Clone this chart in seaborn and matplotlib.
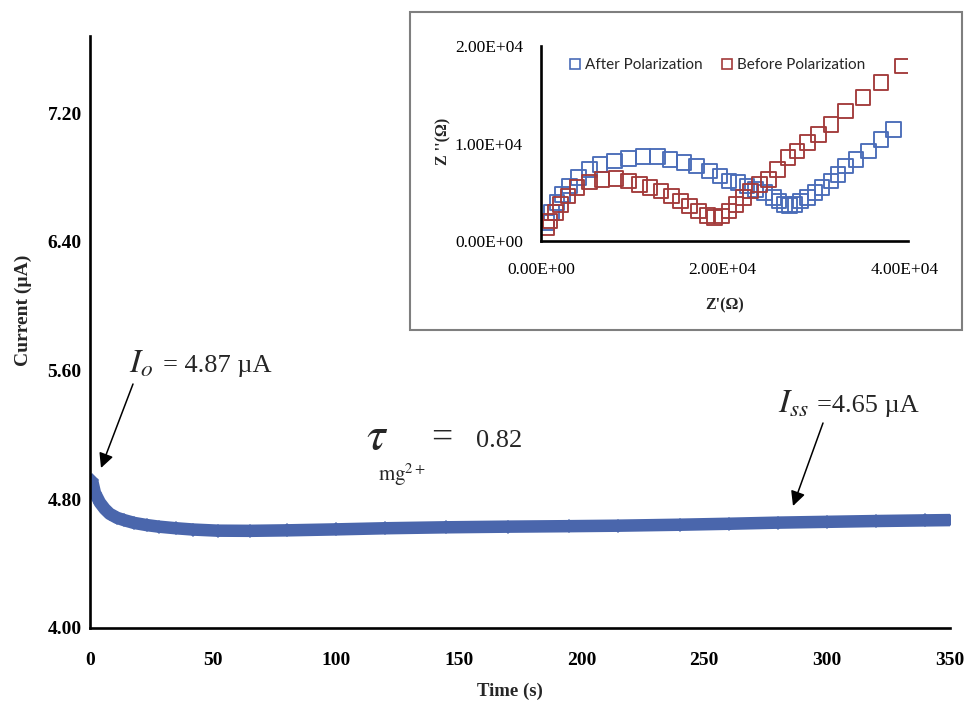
import numpy as np
import pandas as pd
import seaborn as sns
import matplotlib
matplotlib.use("Agg")
import matplotlib.pyplot as plt
from matplotlib.lines import Line2D
from matplotlib.patches import Rectangle
from matplotlib.ticker import FuncFormatter, FixedLocator

# ---------------- data ----------------
time_s = [0.8, 2, 4, 6, 8, 11, 14, 18, 23, 28, 35, 42, 52, 65, 80, 100,
          120, 145, 170, 195, 215, 240, 260, 280, 300, 320, 340, 351]
current_uA = [4.92, 4.84, 4.78, 4.74, 4.71, 4.685, 4.67, 4.653, 4.64, 4.63,
              4.62, 4.612, 4.605, 4.604, 4.607, 4.613, 4.62, 4.626, 4.63,
              4.633, 4.636, 4.642, 4.648, 4.655, 4.66, 4.665, 4.669, 4.671]

after_zre = [591, 1182, 1773, 2364, 3152, 4137, 5319, 6501, 8077, 9653, 11229,
             12805, 14184, 15760, 17139, 18518, 19700, 20685, 21670, 22655,
             23640, 24625, 25610, 26201, 26792, 27383, 27974, 28565, 29353,
             30141, 30929, 31914, 32702, 33490, 34672, 36051, 37430, 38809]
after_zim = [1880, 2906, 3932, 4787, 5641, 6496, 7351, 7864, 8206, 8445, 8650,
             8650, 8377, 8035, 7693, 7180, 6667, 6154, 5983, 5641, 5299, 4958,
             4445, 4103, 3761, 3658, 3761, 4103, 4445, 4958, 5470, 6154, 6838,
             7693, 8377, 9231, 10428, 11454]

before_zre = [591, 985, 1576, 2167, 2955, 3940, 5319, 6698, 8274, 9653, 10835,
              12017, 13199, 14381, 15366, 16351, 17336, 18321, 19109, 19897,
              20685, 21473, 22261, 23049, 24034, 25019, 26004, 27186, 28171,
              29353, 30535, 31914, 33490, 35460, 37430, 39794]
before_zim = [1368, 2051, 2906, 3761, 4616, 5470, 6052, 6325, 6394, 6154, 5812,
              5470, 5129, 4616, 4103, 3590, 3077, 2633, 2393, 2564, 3077, 3761,
              4445, 5129, 5812, 6325, 7351, 8548, 9231, 10086, 10941, 11967,
              13334, 14702, 16240, 17950]

main_yticks = [4.00, 4.80, 5.60, 6.40, 7.20]
main_xticks = [0, 50, 100, 150, 200, 250, 300, 350]
inset_xticks = [0, 20000, 40000]
inset_yticks = [0, 10000, 20000]
series_names = ["After Polarization", "Before Polarization"]

# ---------------- style ----------------
sns.set_theme(style="white")
plt.rcParams["font.family"] = ["Liberation Serif", "DejaVu Serif"]
plt.rcParams["mathtext.fontset"] = "stix"

W, H = 967, 706
fig = plt.figure(figsize=(W / 100, H / 100), dpi=100)
fig.patch.set_facecolor("white")

def fx(px):
    return px / W

def fy(py):
    return 1 - py / H

MAIN_BLUE = "#4A66AC"
IN_BLUE = "#4A6CB8"
IN_RED = "#A33B3B"

# ---------------- main axes ----------------
ax = fig.add_axes([fx(90), fy(628), fx(950) - fx(90), fy(36) - fy(628)])
main_df = pd.DataFrame({"Time (s)": time_s, "Current": current_uA})
sns.lineplot(data=main_df, x="Time (s)", y="Current", ax=ax, color=MAIN_BLUE,
             linewidth=9.0, marker="D", markersize=7.5, markeredgewidth=0,
             solid_capstyle="butt", solid_joinstyle="round")
ax.set_xlim(0, 350)
ax.set_ylim(4.0, 7.68)
ax.xaxis.set_major_locator(FixedLocator(main_xticks))
ax.yaxis.set_major_locator(FixedLocator(main_yticks))
ax.yaxis.set_major_formatter(FuncFormatter(lambda v, p: f"{v:.2f}"))
ax.xaxis.set_major_formatter(FuncFormatter(lambda v, p: f"{v:.0f}"))
for s in ["top", "right"]:
    ax.spines[s].set_visible(False)
for s in ["left", "bottom"]:
    ax.spines[s].set_color("black")
    ax.spines[s].set_linewidth(1.9)
ax.tick_params(axis="both", length=0, labelsize=14, colors="black")
ax.tick_params(axis="y", pad=6)
ax.tick_params(axis="x", pad=17)
for lab in ax.get_xticklabels() + ax.get_yticklabels():
    lab.set_fontweight("bold")
ax.set_xlabel("Time (s)", fontsize=13.5, fontweight="bold")
ax.set_ylabel("Current (\u00b5A)", fontsize=14, fontweight="bold")
ax.xaxis.set_label_coords((510 - 90) / 860, (628 - 683) / 592)
ax.yaxis.set_label_coords((32 - 90) / 860, (628 - 310) / 592)
ax.grid(False)

# annotations
fig.text(fx(129), fy(373), r"$I_o$", fontsize=24, va="baseline", ha="left")
fig.text(fx(163), fy(372), "= 4.87 \u00b5A", fontsize=19, va="baseline", ha="left")
ax.annotate("", xy=(fx(101), fy(468)), xytext=(fx(133), fy(384)),
            xycoords="figure fraction", textcoords="figure fraction",
            arrowprops=dict(arrowstyle="-|>", lw=1.1, color="black",
                            mutation_scale=22, shrinkA=0, shrinkB=0))
fig.text(fx(366), fy(449), r"$\tau$", fontsize=34, va="baseline", ha="left")
fig.text(fx(378), fy(481), r"$\mathrm{mg}^{2+}$", fontsize=15, va="baseline", ha="left")
fig.text(fx(431), fy(448), "=", fontsize=27, va="baseline", ha="left")
fig.text(fx(476), fy(447), "0.82", fontsize=19, va="baseline", ha="left")

fig.text(fx(778), fy(413), r"$I_{ss}$", fontsize=24, va="baseline", ha="left")
fig.text(fx(817), fy(412), "=4.65 \u00b5A", fontsize=19, va="baseline", ha="left")
ax.annotate("", xy=(fx(793), fy(506)), xytext=(fx(823), fy(423)),
            xycoords="figure fraction", textcoords="figure fraction",
            arrowprops=dict(arrowstyle="-|>", lw=1.1, color="black",
                            mutation_scale=22, shrinkA=0, shrinkB=0))

# ---------------- inset ----------------
box = Rectangle((fx(410), fy(330)), fx(962) - fx(410), fy(12) - fy(330),
                transform=fig.transFigure, facecolor="white",
                edgecolor="#7F7F7F", linewidth=1.5, zorder=1)
fig.patches.append(box)

iax = fig.add_axes([fx(541), fy(241), fx(908) - fx(541), fy(46) - fy(241)],
                   zorder=2)
iax.set_facecolor("none")
in_df = pd.DataFrame({
    "Zre": after_zre + before_zre,
    "Zim": after_zim + before_zim,
    "series": [series_names[0]] * len(after_zre) + [series_names[1]] * len(before_zre),
})
sns.scatterplot(data=in_df, x="Zre", y="Zim", hue="series", ax=iax,
                palette={series_names[0]: IN_BLUE, series_names[1]: IN_RED},
                marker="s", s=110, linewidth=1.35, legend=False)
for coll in iax.collections:
    fcs = coll.get_facecolors()
    coll.set_edgecolors(fcs)
    coll.set_facecolors("none")

iax.set_xlim(0, 40400)
iax.set_ylim(0, 20000)
iax.xaxis.set_major_locator(FixedLocator(inset_xticks))
iax.yaxis.set_major_locator(FixedLocator(inset_yticks))
fmt = FuncFormatter(lambda v, p: f"{v:.2E}")
iax.xaxis.set_major_formatter(fmt)
iax.yaxis.set_major_formatter(fmt)
for s in ["top", "right"]:
    iax.spines[s].set_visible(False)
for s in ["left", "bottom"]:
    iax.spines[s].set_color("black")
    iax.spines[s].set_linewidth(1.9)
iax.tick_params(axis="both", length=0, labelsize=12.5, colors="black")
iax.tick_params(axis="y", pad=13)
iax.tick_params(axis="x", pad=15)
iax.set_xlabel("Z'(\u03a9)", fontsize=11.5, fontweight="bold")
iax.set_ylabel("Z ''(\u03a9)", fontsize=11.5, fontweight="bold")
iax.xaxis.set_label_coords((725 - 541) / 367, (241 - 297) / 195)
iax.yaxis.set_label_coords((451 - 541) / 367, (241 - 141) / 195)
iax.grid(False)

handles = [Line2D([], [], linestyle="none", marker="s", markersize=7.5,
                  markerfacecolor="none", markeredgecolor=c, markeredgewidth=1.2)
           for c in (IN_BLUE, IN_RED)]
leg = iax.legend(handles, series_names, loc="center",
                 bbox_to_anchor=((717 - 541) / 367, (241 - 65) / 195),
                 ncol=2, frameon=False, handlelength=0.8, handletextpad=0.25,
                 columnspacing=1.2, prop={"family": "Lato", "size": 11})

fig.savefig("out.png", dpi=100)
